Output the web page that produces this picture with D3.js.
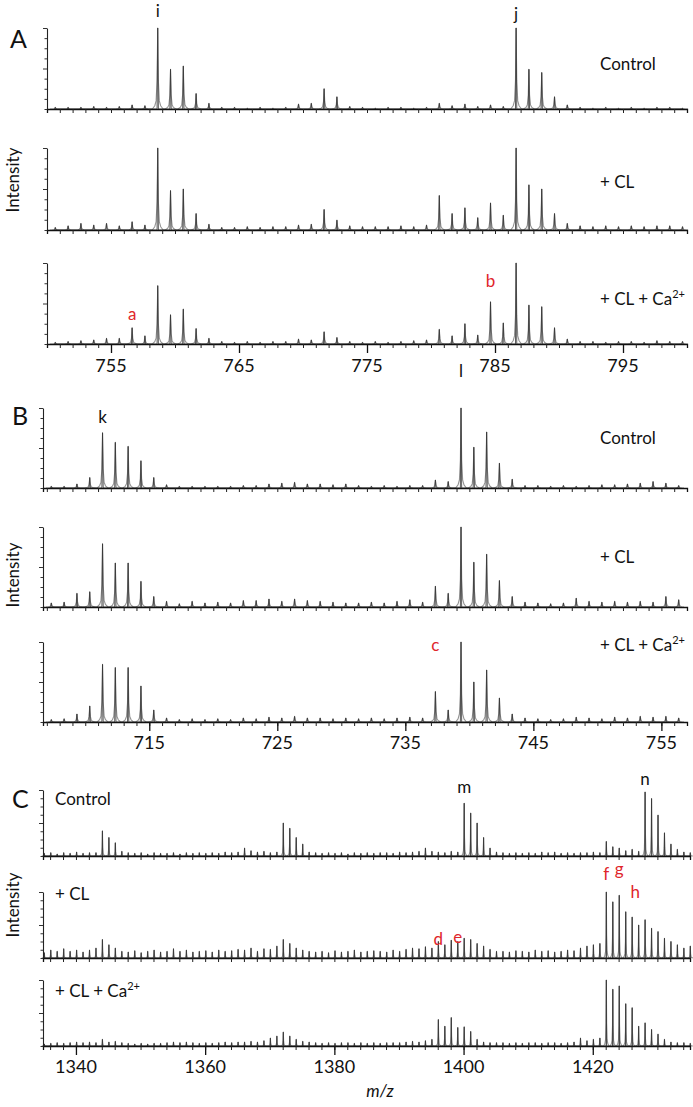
<!DOCTYPE html>
<html><head><meta charset="utf-8">
<script src="https://cdn.jsdelivr.net/npm/d3@7"></script>
<style>
body{margin:0;background:#fff;}
svg text{font-family:Lato,"Open Sans",sans-serif;fill:#111;}
</style></head><body>
<svg id="chart" width="693" height="1107"></svg>
<script>
// ---------------- DATA ----------------
// Panel A (m/z 750-800)
const mzA = [750.65,751.65,752.65,753.65,754.65,755.65,756.65,757.65,758.65,759.65,
             760.65,761.65,762.65,763.65,764.65,765.65,766.65,767.65,768.65,769.65,
             770.65,771.65,772.65,773.65,774.65,775.65,776.65,777.65,778.65,779.65,
             780.65,781.65,782.65,783.65,784.65,785.65,786.65,787.65,788.65,789.65,
             790.65,791.65,792.65,793.65,794.65,795.65,796.65,797.65,798.65,799.65];
const A_control = [0.02,0.02,0.02,0.03,0.02,0.03,0.05,0.04,1.0,0.49,
                   0.53,0.19,0.07,0.02,0.02,0.01,0.02,0.01,0.02,0.06,
                   0.07,0.25,0.15,0.03,0.02,0.01,0.02,0.02,0.01,0.02,
                   0.07,0.04,0.06,0.03,0.05,0.03,1.0,0.49,0.45,0.15,
                   0.05,0.02,0.01,0.02,0.01,0.02,0.01,0.02,0.02,0.01];
const A_CL = [0.03,0.05,0.08,0.06,0.08,0.05,0.1,0.06,1.0,0.48,
              0.5,0.2,0.07,0.03,0.03,0.04,0.03,0.04,0.04,0.06,
              0.07,0.25,0.12,0.05,0.04,0.04,0.04,0.05,0.04,0.06,
              0.42,0.2,0.27,0.15,0.33,0.18,1.0,0.55,0.5,0.2,
              0.08,0.05,0.04,0.05,0.04,0.05,0.04,0.05,0.05,0.04];
const A_CLCa = [0.02,0.03,0.04,0.05,0.07,0.07,0.2,0.1,0.72,0.36,
                0.43,0.19,0.07,0.03,0.02,0.03,0.02,0.03,0.03,0.06,
                0.05,0.15,0.08,0.03,0.02,0.03,0.02,0.03,0.04,0.05,
                0.18,0.1,0.25,0.11,0.52,0.26,1.0,0.48,0.46,0.2,
                0.06,0.03,0.03,0.02,0.03,0.03,0.02,0.04,0.03,0.03];
const ticksA = [755,765,775,785,795];

// Panel B (m/z ~707-757)
const mzB = [707.35,708.35,709.35,710.35,711.35,712.35,713.35,714.35,715.35,716.35,
             717.35,718.35,719.35,720.35,721.35,722.35,723.35,724.35,725.35,726.35,
             727.35,728.35,729.35,730.35,731.35,732.35,733.35,734.35,735.35,736.35,
             737.35,738.35,739.35,740.35,741.35,742.35,743.35,744.35,745.35,746.35,
             747.35,748.35,749.35,750.35,751.35,752.35,753.35,754.35,755.35,756.35];
const B_control = [0.02,0.02,0.05,0.13,0.69,0.57,0.52,0.34,0.13,0.04,
                   0.02,0.02,0.02,0.02,0.02,0.03,0.03,0.05,0.06,0.07,
                   0.05,0.05,0.04,0.05,0.03,0.02,0.03,0.02,0.03,0.03,
                   0.1,0.08,1.0,0.51,0.7,0.31,0.11,0.03,0.03,0.02,
                   0.03,0.02,0.03,0.04,0.04,0.05,0.06,0.08,0.06,0.03];
const B_CL = [0.05,0.06,0.17,0.19,0.79,0.55,0.55,0.32,0.13,0.07,
              0.04,0.07,0.05,0.06,0.05,0.08,0.08,0.1,0.07,0.1,
              0.08,0.07,0.06,0.05,0.05,0.06,0.05,0.07,0.09,0.06,
              0.26,0.17,1.0,0.56,0.66,0.33,0.13,0.06,0.05,0.04,
              0.05,0.11,0.07,0.06,0.07,0.06,0.07,0.06,0.13,0.09];
const B_CLCa = [0.03,0.04,0.1,0.2,0.72,0.68,0.68,0.45,0.15,0.05,
                0.03,0.04,0.03,0.04,0.03,0.05,0.04,0.06,0.05,0.07,
                0.05,0.05,0.04,0.05,0.04,0.05,0.04,0.05,0.06,0.05,
                0.38,0.15,1.0,0.5,0.65,0.3,0.1,0.05,0.04,0.03,
                0.04,0.06,0.05,0.04,0.06,0.05,0.07,0.06,0.07,0.05];
const ticksB = [715,725,735,745,755];

// Panel C (m/z ~1335-1435)
const mzC = [1335.1,1336.1,1337.1,1338.1,1339.1,1340.1,1341.1,1342.1,1343.1,1344.1,
             1345.1,1346.1,1347.1,1348.1,1349.1,1350.1,1351.1,1352.1,1353.1,1354.1,
             1355.1,1356.1,1357.1,1358.1,1359.1,1360.1,1361.1,1362.1,1363.1,1364.1,
             1365.1,1366.1,1367.1,1368.1,1369.1,1370.1,1371.1,1372.1,1373.1,1374.1,
             1375.1,1376.1,1377.1,1378.1,1379.1,1380.1,1381.1,1382.1,1383.1,1384.1,
             1385.1,1386.1,1387.1,1388.1,1389.1,1390.1,1391.1,1392.1,1393.1,1394.1,
             1395.1,1396.1,1397.1,1398.1,1399.1,1400.1,1401.1,1402.1,1403.1,1404.1,
             1405.1,1406.1,1407.1,1408.1,1409.1,1410.1,1411.1,1412.1,1413.1,1414.1,
             1415.1,1416.1,1417.1,1418.1,1419.1,1420.1,1421.1,1422.1,1423.1,1424.1,
             1425.1,1426.1,1427.1,1428.1,1429.1,1430.1,1431.1,1432.1,1433.1,1434.1,
             1435.1];
const C_control = [0.04,0.05,0.03,0.05,0.04,0.06,0.04,0.05,0.05,0.38,
                   0.28,0.2,0.07,0.05,0.04,0.05,0.03,0.05,0.04,0.04,
                   0.05,0.03,0.05,0.04,0.05,0.04,0.05,0.04,0.06,0.05,
                   0.06,0.12,0.08,0.06,0.07,0.05,0.06,0.5,0.42,0.28,
                   0.18,0.06,0.05,0.04,0.05,0.04,0.05,0.03,0.05,0.04,
                   0.05,0.04,0.05,0.05,0.04,0.06,0.05,0.06,0.07,0.12,
                   0.07,0.06,0.05,0.07,0.06,0.8,0.65,0.5,0.28,0.12,
                   0.06,0.05,0.04,0.05,0.04,0.05,0.04,0.06,0.05,0.06,
                   0.04,0.05,0.04,0.05,0.05,0.06,0.05,0.22,0.14,0.12,
                   0.08,0.1,0.07,0.97,0.87,0.62,0.35,0.18,0.1,0.06,
                   0.05];
const C_CL = [0.08,0.12,0.1,0.14,0.1,0.12,0.09,0.12,0.15,0.28,
              0.2,0.15,0.1,0.09,0.11,0.08,0.1,0.12,0.09,0.1,
              0.14,0.1,0.12,0.09,0.1,0.11,0.09,0.12,0.1,0.11,
              0.13,0.12,0.15,0.1,0.14,0.13,0.18,0.28,0.22,0.15,
              0.12,0.1,0.09,0.1,0.08,0.11,0.09,0.1,0.12,0.09,
              0.1,0.11,0.1,0.09,0.12,0.1,0.13,0.15,0.14,0.17,
              0.15,0.25,0.2,0.27,0.25,0.3,0.28,0.22,0.18,0.13,
              0.1,0.1,0.09,0.11,0.1,0.09,0.12,0.1,0.11,0.09,
              0.1,0.12,0.11,0.15,0.18,0.2,0.22,1.0,0.85,0.95,
              0.7,0.62,0.5,0.58,0.45,0.4,0.3,0.25,0.2,0.15,
              0.18];
const C_CLCa = [0.03,0.04,0.05,0.04,0.05,0.06,0.05,0.06,0.05,0.1,
                0.06,0.07,0.05,0.04,0.03,0.04,0.03,0.04,0.04,0.05,
                0.06,0.05,0.06,0.05,0.04,0.05,0.04,0.05,0.06,0.05,
                0.06,0.06,0.07,0.06,0.08,0.12,0.15,0.21,0.15,0.1,
                0.07,0.06,0.05,0.04,0.05,0.04,0.05,0.05,0.04,0.05,
                0.04,0.05,0.04,0.05,0.05,0.05,0.06,0.07,0.06,0.08,
                0.1,0.4,0.3,0.43,0.28,0.29,0.22,0.1,0.06,0.05,
                0.05,0.05,0.04,0.05,0.04,0.05,0.05,0.04,0.05,0.05,
                0.04,0.05,0.06,0.12,0.08,0.1,0.12,1.0,0.86,0.91,
                0.64,0.58,0.3,0.35,0.25,0.18,0.1,0.06,0.05,0.05,
                0.04];
const ticksC = [1340,1360,1380,1400,1420];

const conditions = ["Control", "+ CL", "+ CL + Ca"];

// ---------------- DRAW ----------------
const svg = d3.select("#chart");
const RED = "#e0262b";
// relative peak profile (offset in m/z units scaled by w, fraction of height)
const profile = [[-1, 0], [-0.55, 0.04], [-0.3, 0.1], [-0.12, 0.35], [0, 1], [0.12, 0.35], [0.3, 0.1], [0.55, 0.04], [1, 0]];

function drawRow(xs, row, mz, vals, opts) {
  const y = d3.scaleLinear().domain([0, 1]).range([row.base, row.top]);
  const g = svg.append("g");
  const line = d3.line().x(d => xs(d[0])).y(d => y(d[1]));
  // gray envelope trace
  const env = [];
  mz.forEach((m, i) => {
    profile.forEach(p => env.push([m + p[0] * opts.w, vals[i] * p[1]]));
  });
  g.append("path").attr("d", line(env)).attr("fill", "none")
    .attr("stroke", "#939393").attr("stroke-width", 1.1).attr("stroke-linejoin", "round");
  // black spike trace
  const sp = [];
  mz.forEach((m, i) => {
    sp.push([m - opts.w0, 0], [m, vals[i]], [m + opts.w0, 0]);
  });
  g.append("path").attr("d", line(sp)).attr("fill", "none")
    .attr("stroke", "#333").attr("stroke-width", 0.8);
  // x axis (minor ticks)
  const ax = g.append("g").attr("transform", `translate(0,${row.base})`)
    .call(d3.axisBottom(xs).tickValues(opts.minor).tickSize(4).tickFormat(""));
  ax.select(".domain").attr("stroke", "#111").attr("stroke-width", 1.3);
  ax.selectAll(".tick line").attr("stroke", "#222");
  // y axis
  const yTicks = [0, 0.125, 0.25, 0.375, 0.5, 0.625, 0.75, 0.875, 1];
  const ay = g.append("g").attr("transform", `translate(${xs.range()[0]},0)`)
    .call(d3.axisLeft(y).tickValues(yTicks).tickSizeOuter(0).tickFormat(""));
  ay.selectAll(".tick line").attr("x2", d => (d === 0.5 || d === 1) ? -4 : -2.5).attr("stroke", "#333");
  ay.select(".domain").attr("stroke", "#222").attr("stroke-width", 1.1);
  return y;
}

function bottomAxis(xs, base, ticks, labelY) {
  const g = svg.append("g").attr("transform", `translate(0,${base})`)
    .call(d3.axisBottom(xs).tickValues(ticks).tickSize(9).tickFormat(""));
  g.select(".domain").remove();
  g.selectAll(".tick line").attr("stroke", "#111").attr("stroke-width", 1.3);
  svg.append("g").selectAll("text").data(ticks).join("text")
    .attr("x", d => xs(d)).attr("y", labelY).attr("text-anchor", "middle")
    .attr("font-size", 18).text(d => d);
}

function condLabel(x, y, i, anchor) {
  const t = svg.append("text").attr("x", x).attr("y", y).attr("font-size", 17)
    .attr("text-anchor", anchor || "start");
  if (i < 2) { t.text(conditions[i]); return; }
  t.append("tspan").text(conditions[2]);
  t.append("tspan").attr("font-size", 11).attr("dy", -7).text("2+");
}
function peakLabel(x, y, s, color) {
  svg.append("text").attr("x", x).attr("y", y).attr("text-anchor", "middle")
    .attr("font-size", 17).attr("fill", color || "#111").style("fill", color || "#111").text(s);
}
function intensity(cy) {
  svg.append("text").attr("transform", `translate(19,${cy}) rotate(-90)`)
    .attr("text-anchor", "middle").attr("font-size", 17).text("Intensity");
}
function panelLetter(x, y, s) {
  svg.append("text").attr("x", x).attr("y", y).attr("font-size", 25).text(s);
}

// ---- Panel A ----
const xA = d3.scaleLinear().domain([750, 800]).range([47, 687]);
const rowsA = [{top: 28, base: 109}, {top: 148, base: 230}, {top: 263, base: 344}];
const minorA = d3.range(751, 800);
[A_control, A_CL, A_CLCa].forEach((vals, i) =>
  drawRow(xA, rowsA[i], mzA, vals, {w0: 0.05, w: 0.42, minor: minorA}));
bottomAxis(xA, rowsA[2].base, ticksA, 372);
panelLetter(10, 48, "A");
intensity(180);
condLabel(600, 70, 0); condLabel(600, 188, 1); condLabel(600, 305, 2);
peakLabel(xA(mzA[8]), 17, "i");
peakLabel(xA(mzA[36]), 20, "j");
peakLabel(xA(mzA[6]), 320, "a", RED);
peakLabel(xA(mzA[34]), 287, "b", RED);

// ---- Panel B ----
const xB = d3.scaleLinear().domain([706.7, 757.0]).range([43, 687]);
const rowsB = [{top: 408, base: 488}, {top: 527, base: 607}, {top: 642, base: 722}];
const minorB = d3.range(707, 757);
[B_control, B_CL, B_CLCa].forEach((vals, i) =>
  drawRow(xB, rowsB[i], mzB, vals, {w0: 0.05, w: 0.42, minor: minorB}));
bottomAxis(xB, rowsB[2].base, ticksB, 749);
panelLetter(12, 425, "B");
intensity(575);
condLabel(600, 444, 0); condLabel(600, 563, 1); condLabel(600, 651, 2);
peakLabel(xB(mzB[4]), 423, "k");
peakLabel(xB(mzB[32]), 377, "l");
peakLabel(xB(mzB[30]), 651, "c", RED);

// ---- Panel C ----
const xC = d3.scaleLinear().domain([1334.9, 1435.05]).range([43, 690]);
const rowsC = [{top: 790, base: 856}, {top: 892, base: 958}, {top: 980, base: 1046}];
const minorC = d3.range(1336, 1436, 2);
[C_control, C_CL, C_CLCa].forEach((vals, i) =>
  drawRow(xC, rowsC[i], mzC, vals, {w0: 0.04, w: 0.4, minor: minorC}));
bottomAxis(xC, rowsC[2].base, ticksC, 1073);
panelLetter(12, 808, "C");
intensity(905);
condLabel(55, 805, 0); condLabel(55, 900, 1); condLabel(55, 997, 2);
peakLabel(xC(mzC[65]), 793, "m");
peakLabel(xC(mzC[93]), 785, "n");
peakLabel(xC(mzC[61]), 945, "d", RED);
peakLabel(xC(mzC[64]), 943, "e", RED);
peakLabel(xC(mzC[87]), 880, "f", RED);
peakLabel(xC(mzC[89]), 875, "g", RED);
peakLabel(xC(mzC[91]) + 3, 898, "h", RED);
svg.append("text").attr("x", 380).attr("y", 1097).attr("text-anchor", "middle")
  .attr("font-size", 17).attr("font-style", "italic").text("m/z");
</script>
</body></html>
